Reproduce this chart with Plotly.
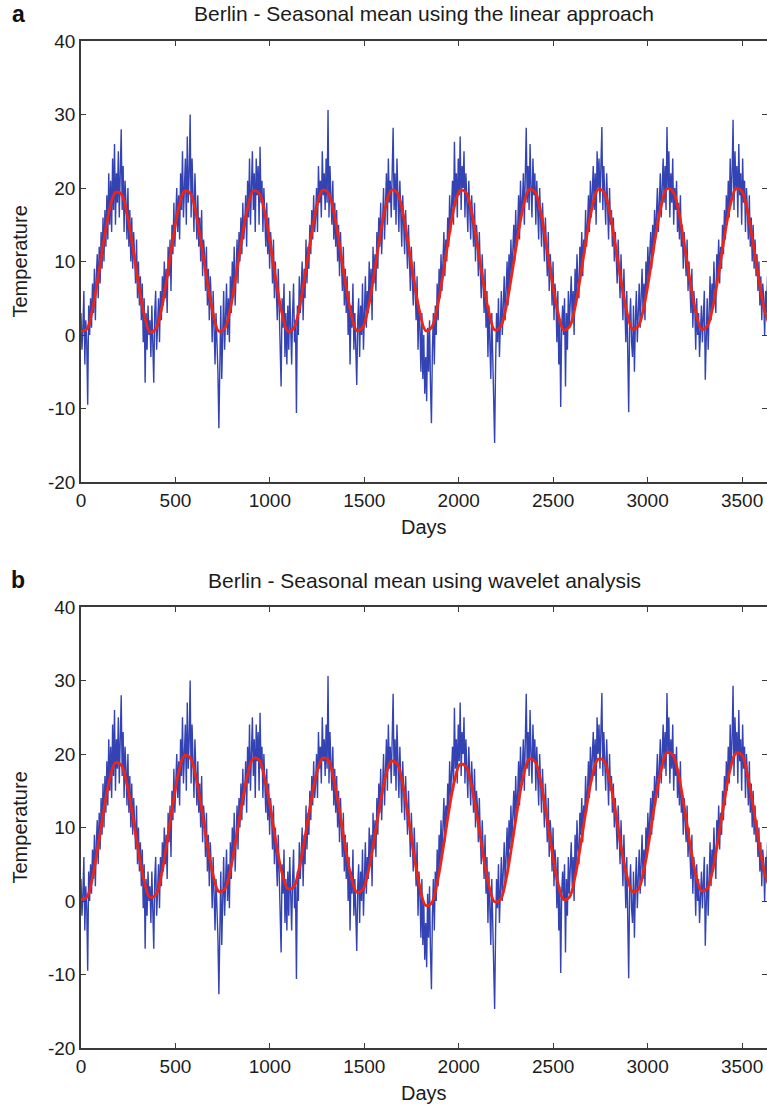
import numpy as np
import plotly.graph_objects as go

# ---------------- data ----------------
# Daily temperature series, sampled ~every 5 days (72 samples per year)
temp_y1 = [3, -2, 1, 6, -4, 2, -1, -9.5, 4, 0,
           5, 1, 7, 3, 9, 2, 8, 11, 5, 12,
           7, 14, 9, 16, 10, 17, 12, 19, 13, 22,
           15, 21, 14, 24, 17, 26, 15, 22, 18, 25,
           16, 21, 28, 17, 23, 14, 21, 18, 13, 20,
           12, 17, 10, 16, 9, 14, 11, 7, 13, 5,
           10, 4, 8, 2, 7, -1, 5, -6.5, 3, -2, 4, 0]
temp_y2 = [2, -3, 4, -1, -6.5, 3, 6, -2, 1, 5,
           -1, 6, 2, 8, 4, 10, 5, 9, 3, 12,
           8, 13, 6, 15, 11, 18, 12, 16, 20, 14,
           19, 13, 22, 17, 25, 16, 20, 24, 15, 27,
           18, 22, 30, 16, 24, 19, 14, 22, 17, 13,
           19, 12, 16, 10, 17, 8, 13, 11, 6, 12,
           4, 9, 2, 8, 5, -1, 6, 1, -4, 3, 0, -5]
temp_y3 = [-12.7, -3, 4, -6, 2, 6, -2, 3, 7, 0,
           5, -1, 8, 3, 10, 6, 12, 4, 9, 13,
           7, 14, 10, 16, 11, 18, 13, 15, 19, 12,
           21, 16, 24, 15, 20, 25, 17, 22, 14, 24,
           19, 23, 15, 25.6, 18, 21, 14, 20, 16, 12,
           18, 11, 16, 9, 14, 12, 7, 13, 5, 10,
           6, 2, 9, 3, -1, -7, 5, 1, 7, -3, 3, -4]
temp_y4 = [4, -2, 6, 0, -4, 3, 7, -1, 2, -10.6,
           4, 0, 8, 3, 6, 10, 2, 9, 5, 13,
           7, 12, 9, 15, 11, 17, 13, 19, 14, 16,
           20, 14, 23, 18, 21, 16, 25, 19, 22, 17,
           24, 18, 30.6, 16, 23, 20, 15, 21, 13, 18,
           12, 17, 10, 15, 8, 14, 11, 6, 12, 4,
           9, 3, 8, 0, 6, -4, 4, 1, 7, -2, 3, -1]
temp_y5 = [-6.8, 2, 5, -3, 4, 0, 7, -2, 3, 8,
           1, 6, 3, 10, 5, 9, 2, 12, 7, 11,
           6, 14, 9, 16, 12, 18, 11, 15, 20, 13,
           17, 22, 15, 24, 18, 21, 16, 25, 28.2, 17,
           22, 15, 24, 19, 14, 21, 17, 12, 19, 15,
           11, 17, 13, 9, 15, 10, 6, 12, 8, 4,
           10, 5, 2, 8, -2, 4, 1, -5, 3, -6, 0, -8]
temp_y6 = [-3, -9, 1, -5, 2, -7, -12, -2, 3, -4,
           4, 0, 7, 2, 9, 5, 11, 6, 10, 14,
           8, 13, 10, 16, 12, 19, 14, 17, 21, 15,
           26.3, 18, 22, 16, 24, 19, 27, 17, 23, 20,
           25, 16, 22, 18, 14, 21, 17, 13, 19, 15,
           12, 18, 10, 15, 13, 8, 14, 9, 5, 11,
           7, 3, 9, 1, 6, -3, 4, 0, -6, 3, -2, -8]
temp_y7 = [-14.7, -4, 3, -1, 5, -3, 2, 6, 0, 4,
           8, 2, 6, 10, 4, 11, 7, 13, 8, 12,
           15, 10, 17, 12, 14, 19, 13, 21, 16, 18,
           22, 15, 25, 28.2, 18, 23, 17, 26, 20, 16,
           24, 19, 22, 15, 21, 18, 13, 20, 16, 12,
           18, 13, 10, 16, 12, 8, 14, 6, 11, 9,
           4, 10, 2, 7, 5, -1, 6, -4, 2, -9.8, 1, 4]
temp_y8 = [0, 5, -7, 3, -2, 6, 1, 4, 8, 2,
           6, 0, 9, 4, 11, 7, 5, 12, 9, 14,
           8, 13, 11, 17, 12, 15, 19, 14, 21, 16,
           19, 23, 17, 22, 15, 25, 20, 24, 18, 22,
           28.3, 17, 23, 19, 15, 22, 18, 13, 20, 15,
           17, 12, 16, 10, 14, 11, 7, 13, 8, 5,
           11, 6, 2, 9, 4, -1, 6, -4, -10.5, 2, 5, -1]
temp_y9 = [-3, 4, -5, 2, 6, -1, 3, 7, 1, 5,
           9, 3, 7, 2, 10, 6, 12, 8, 11, 14,
           9, 15, 11, 17, 13, 16, 20, 14, 18, 22,
           16, 21, 24, 18, 23, 17, 28.3, 20, 25, 16,
           22, 18, 24, 15, 20, 17, 21, 14, 18, 13,
           19, 12, 15, 9, 14, 11, 8, 13, 6, 10,
           7, 3, 9, 1, 6, 4, -2, 5, 0, 3, -3, 2]
temp_y10 = [4, -1, 3, 6, -6.1, 2, 5, -2, 4, 8,
            2, 7, 4, 10, 6, 3, 11, 8, 13, 7,
            12, 9, 15, 11, 17, 13, 19, 15, 21, 16,
            24, 18, 22, 29.3, 17, 25, 20, 23, 16, 26,
            19, 22, 15, 24, 18, 21, 14, 20, 17, 13,
            19, 12, 16, 10, 15, 9, 13, 8, 11, 6,
            10, 4, 8, 2, 7, 5, 0, 6, 3, 8, 1, 4, 2]

# Seasonal mean, linear approach (12 samples per year)
lin_y1 = [0.5, 0.8, 3.5, 8.0, 13.0, 17.2, 19.4, 19.2, 16.5, 12.0, 7.0, 2.8]
lin_y2 = [0.4, 0.8, 3.5, 8.0, 13.0, 17.3, 19.6, 19.3, 16.6, 12.1, 7.1, 2.9]
lin_y3 = [0.5, 0.9, 3.6, 8.1, 13.1, 17.3, 19.6, 19.3, 16.6, 12.1, 7.1, 2.9]
lin_y4 = [0.5, 0.9, 3.6, 8.1, 13.1, 17.4, 19.7, 19.4, 16.7, 12.2, 7.2, 3.0]
lin_y5 = [0.6, 1.0, 3.7, 8.2, 13.2, 17.4, 19.7, 19.4, 16.7, 12.2, 7.2, 3.0]
lin_y6 = [0.6, 1.0, 3.7, 8.2, 13.2, 17.5, 19.7, 19.4, 16.7, 12.2, 7.3, 3.1]
lin_y7 = [0.7, 1.1, 3.8, 8.3, 13.3, 17.5, 19.8, 19.5, 16.8, 12.3, 7.3, 3.1]
lin_y8 = [0.7, 1.1, 3.8, 8.3, 13.3, 17.5, 19.8, 19.5, 16.8, 12.3, 7.4, 3.2]
lin_y9 = [0.8, 1.2, 3.9, 8.4, 13.4, 17.6, 19.9, 19.6, 16.9, 12.4, 7.4, 3.2]
lin_y10 = [0.8, 1.2, 3.9, 8.4, 13.4, 17.6, 19.9, 19.6, 16.9, 12.4, 7.5, 3.3, 1.0]

# Seasonal mean, wavelet analysis (12 samples per year)
wav_y1 = [0.2, 0.5, 3.2, 7.6, 12.5, 16.6, 18.8, 18.5, 15.9, 11.6, 6.8, 2.7]
wav_y2 = [0.5, 0.8, 3.6, 8.1, 13.2, 17.5, 19.8, 19.5, 16.9, 12.5, 7.6, 3.5]
wav_y3 = [1.3, 1.6, 4.2, 8.5, 13.2, 17.2, 19.4, 19.2, 16.6, 12.5, 7.7, 3.8]
wav_y4 = [1.7, 1.9, 4.5, 8.7, 13.4, 17.3, 19.4, 19.2, 16.5, 12.3, 7.4, 3.4]
wav_y5 = [1.2, 1.5, 4.0, 8.2, 12.9, 16.9, 19.0, 18.7, 15.9, 11.3, 6.1, 1.8]
wav_y6 = [-0.6, -0.3, 2.5, 7.0, 12.1, 16.3, 18.6, 18.3, 15.6, 11.3, 6.3, 2.1]
wav_y7 = [-0.1, 0.2, 3.0, 7.6, 12.7, 17.0, 19.3, 19.0, 16.3, 11.8, 6.7, 2.5]
wav_y8 = [0.2, 0.5, 3.3, 7.8, 12.8, 17.0, 19.3, 19.1, 16.5, 12.3, 7.4, 3.5]
wav_y9 = [1.3, 1.6, 4.3, 8.8, 13.8, 17.9, 20.2, 19.9, 17.2, 12.8, 7.8, 3.7]
wav_y10 = [1.4, 1.7, 4.4, 8.8, 13.7, 17.9, 20.1, 19.9, 17.2, 12.9, 8.0, 3.8, 1.6]

TOTAL_DAYS = 3650
x_ticks = [0, 500, 1000, 1500, 2000, 2500, 3000, 3500]
y_ticks = [-20, -10, 0, 10, 20, 30, 40]
y_tick_text = ["-20", "-10", "0", "10", "20", "30", "40"]
titles = ["Berlin - Seasonal mean using the linear approach",
          "Berlin - Seasonal mean using wavelet analysis"]
panel_labels = ["a", "b"]

temp = (temp_y1 + temp_y2 + temp_y3 + temp_y4 + temp_y5 + temp_y6 + temp_y7
        + temp_y8 + temp_y9 + temp_y10)
lin = lin_y1 + lin_y2 + lin_y3 + lin_y4 + lin_y5 + lin_y6 + lin_y7 + lin_y8 + lin_y9 + lin_y10
wav = wav_y1 + wav_y2 + wav_y3 + wav_y4 + wav_y5 + wav_y6 + wav_y7 + wav_y8 + wav_y9 + wav_y10

temp_days = np.linspace(0, TOTAL_DAYS, len(temp))
mean_days = np.linspace(0, TOTAL_DAYS, len(lin))

# ---------------- figure ----------------
W, H = 767, 1108
BLUE = "#3343b4"
RED = "#ee2414"
AXC = "#3a3a3a"
TXT = "#1c1c1c"
FONT = "Liberation Sans, Arial, sans-serif"

fig = go.Figure()

panels = [(41, 482), (607, 1048)]   # (top, bottom) in pixels
x_left, x_right = 81, 767

for i, series in enumerate([lin, wav]):
    xa = "x" if i == 0 else "x2"
    ya = "y" if i == 0 else "y2"
    fig.add_trace(go.Scatter(x=temp_days, y=temp, mode="lines",
                             line=dict(color=BLUE, width=1.4),
                             xaxis=xa, yaxis=ya, showlegend=False, hoverinfo="skip"))
    fig.add_trace(go.Scatter(x=mean_days, y=series, mode="lines",
                             line=dict(color=RED, width=2.8, shape="spline", smoothing=1.0),
                             xaxis=xa, yaxis=ya, showlegend=False, hoverinfo="skip"))

axis_common = dict(showline=True, linecolor=AXC, linewidth=1.5, mirror="ticks",
                   ticks="inside", ticklen=5, tickcolor=AXC, tickwidth=1.3,
                   showgrid=False, zeroline=False, automargin=False,
                   tickfont=dict(family=FONT, size=19, color=TXT))

xdom = [x_left / W, x_right / W]
for i, (top, bot) in enumerate(panels):
    suffix = "" if i == 0 else "2"
    ydom = [1 - bot / H, 1 - top / H]
    fig.update_layout(**{
        "xaxis" + suffix: dict(axis_common, domain=xdom, range=[0, 3632],
                               tickvals=x_ticks, anchor="y" + suffix),
        "yaxis" + suffix: dict(axis_common, domain=ydom, range=[-20, 40],
                               tickvals=y_ticks, ticktext=y_tick_text,
                               anchor="x" + suffix),
    })

annotations = []
cx = (x_left + x_right) / 2 / W
for i, (top, bot) in enumerate(panels):
    annotations.append(dict(text=titles[i], x=cx, y=1 - (top - 27) / H,
                            xref="paper", yref="paper", showarrow=False,
                            xanchor="center", yanchor="middle",
                            font=dict(family=FONT, size=21, color=TXT)))
    annotations.append(dict(text="<b>" + panel_labels[i] + "</b>", x=18 / W, y=1 - (top - 27) / H,
                            xref="paper", yref="paper", showarrow=False,
                            xanchor="center", yanchor="middle",
                            font=dict(family=FONT, size=23, color="#111111")))
    annotations.append(dict(text="Days", x=cx, y=1 - (bot + 45) / H,
                            xref="paper", yref="paper", showarrow=False,
                            xanchor="center", yanchor="middle",
                            font=dict(family=FONT, size=20, color=TXT)))
    annotations.append(dict(text="Temperature", x=19 / W, y=1 - ((top + bot) / 2) / H,
                            xref="paper", yref="paper", showarrow=False, textangle=-90,
                            xanchor="center", yanchor="middle",
                            font=dict(family=FONT, size=20, color=TXT)))

fig.update_layout(width=W, height=H, margin=dict(l=0, r=0, t=0, b=0),
                  paper_bgcolor="white", plot_bgcolor="white",
                  annotations=annotations, showlegend=False)

fig.write_html("out.html",
               config={"displayModeBar": False},
               post_script="document.body.style.margin='0';"
                           "document.body.style.overflow='hidden';")
